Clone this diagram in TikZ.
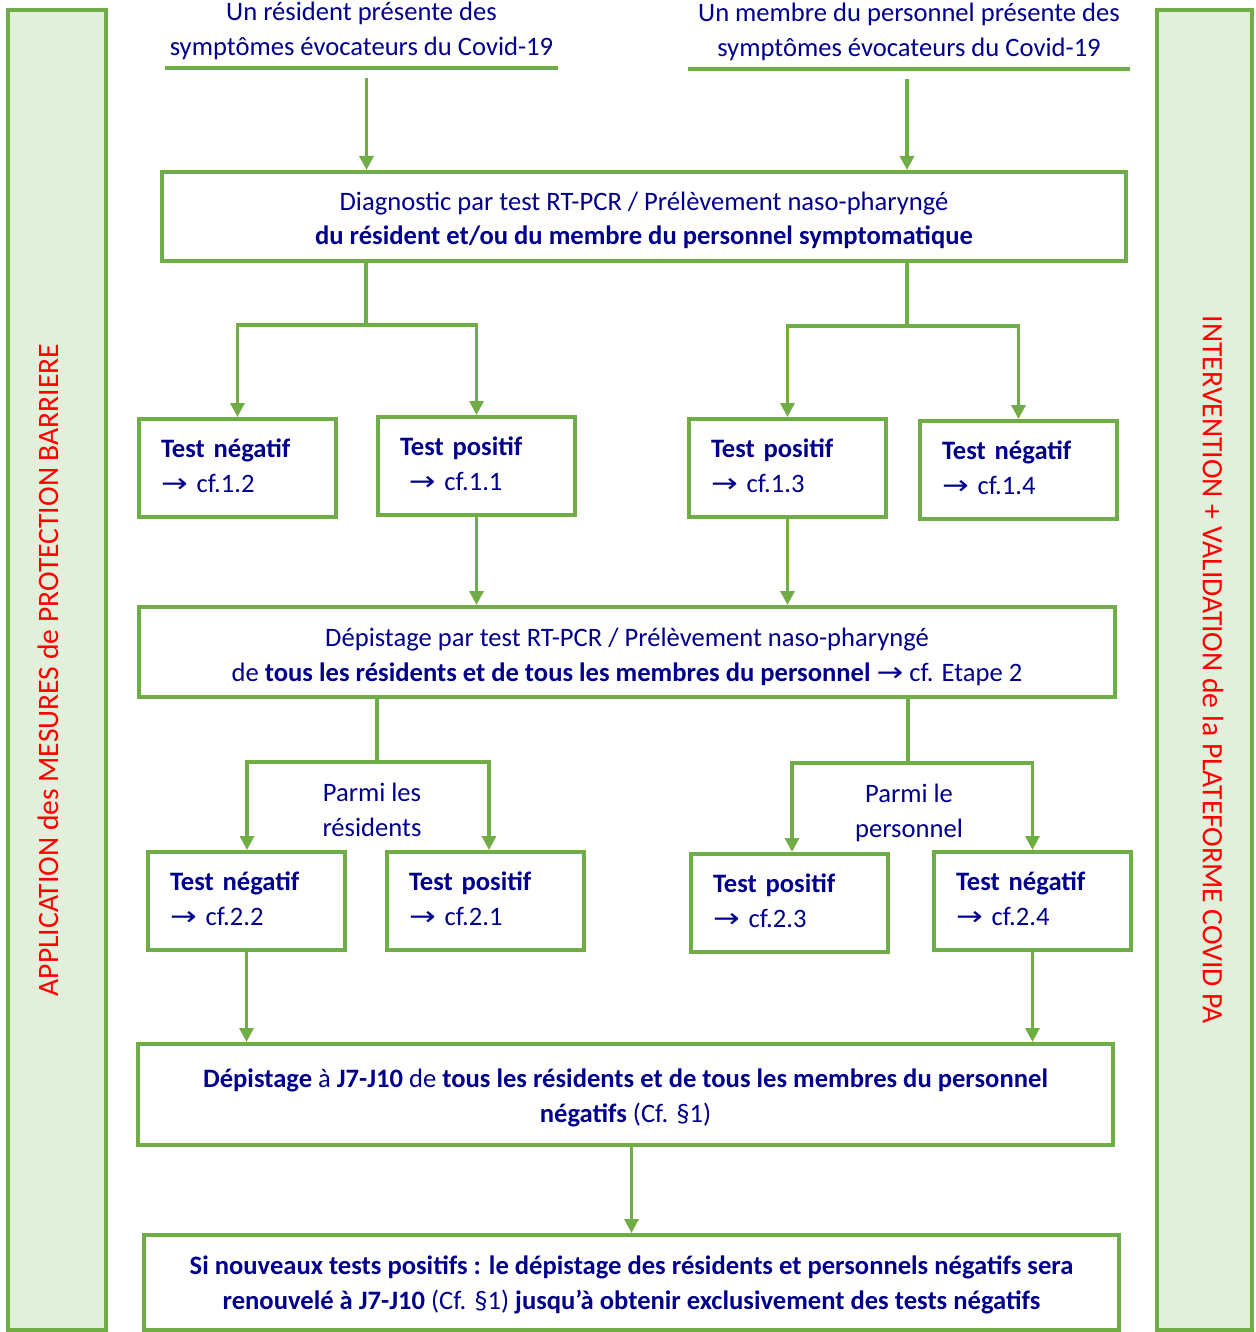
\documentclass[tikz,border=0pt]{standalone}
\usepackage{fontspec}
\usepackage{graphicx}
\setmainfont{Carlito}
\newfontfamily\arrowfont{DejaVu Sans}
\usetikzlibrary{arrows.meta}
\definecolor{grn}{RGB}{112,173,71}
\definecolor{barfill}{RGB}{226,239,218}
\definecolor{navy}{RGB}{0,0,140}
\newcommand\rarr{{\arrowfont\mdseries\scalebox{1.2}[1]{→}}}
\newcommand\fs{\fontsize{13.3}{17.5}\selectfont}
\newcommand\shc[2]{\raisebox{#1}[\height][\depth]{\begin{tabular}{@{}c@{}}#2\end{tabular}}}
\newcommand\shl[2]{\raisebox{#1}[\height][\depth]{\begin{tabular}{@{}l@{}}#2\end{tabular}}}
\tikzset{
  txt/.style={text=navy, font=\fs},
  box/.style={draw=grn, line width=2pt, inner sep=0pt, txt, align=center},
  tbox/.style={box, minimum width=98.5pt, minimum height=49pt, text width=76.5pt, align=left, inner xsep=11pt},
  bar/.style={draw=grn, fill=barfill, line width=2pt, minimum width=48pt, minimum height=660pt, inner sep=0pt},
  side/.style={text=red, font=\fontsize{14.8}{17.5}\selectfont, inner sep=0pt},
  conn/.style={draw=grn, line width=1.6pt},
  arr/.style={conn, -{Triangle[width=7pt,length=7pt]}},
  under/.style={draw=grn, line width=2pt},
}
\begin{document}
\begin{tikzpicture}[x=0.5pt,y=-0.5pt]
\useasboundingbox (0,0) rectangle (1255,1332);
% side bars
\node[bar, minimum width=49pt] (lbar) at (57,670) {};
\node[bar, minimum width=47.5pt] (rbar) at (1204.5,670) {};
\node[side, rotate=90] (ltxt) at (48,670) {APPLICATION des MESURES de PROTECTION BARRIERE};
\node[side, rotate=-90] (rtxt) at (1213,670) {INTERVENTION + VALIDATION de la PLATEFORME COVID PA};
% top texts
\node[txt, align=flush center, anchor=south, inner xsep=0pt, inner ysep=4pt, text width=196.5pt] (r1) at (361.5,68)
  {Un résident présente des\\symptômes évocateurs du Covid-19};
\draw[under] (r1.south west) -- (r1.south east);
\node[txt, align=flush center, anchor=south, inner xsep=0pt, inner ysep=4pt, text width=221pt] (r2) at (909,69)
  {Un membre du personnel présente des\\symptômes évocateurs du Covid-19};
\draw[under] (r2.south west) -- (r2.south east);
% diagnostic box
\node[box, minimum width=482pt, minimum height=44.5pt] (diag) at (644,216.5)
  {\shc{-2pt}{Diagnostic par test RT-PCR / Prélèvement naso-pharyngé\\\textbf{du résident et/ou du membre du personnel symptomatique}}};
\draw[arr] ([xshift=2.5pt,yshift=-5pt]r1.south) -- ([xshift=2.5pt]r1.south |- diag.north);
\draw[arr] ([xshift=-1pt,yshift=-5pt]r2.south) -- ([xshift=-1pt]r2.south |- diag.north);
% row 1
\node[tbox] (tn12) at (237.5,468) {\shl{0pt}{\textbf{Test négatif}\\\rarr\ cf.1.2}};
\node[tbox] (tp11) at (476.5,466) {\shl{0pt}{\textbf{Test positif}\\\ \rarr\ cf.1.1}};
\node[tbox] (tp13) at (787.5,468) {\shl{0pt}{\textbf{Test positif}\\\rarr\ cf.1.3}};
\node[tbox] (tn14) at (1018.5,470) {\shl{0pt}{\textbf{Test négatif}\\\rarr\ cf.1.4}};
\coordinate (bL1) at (366,325);
\coordinate (bR1) at (907,326);
\draw[conn] (diag.south -| bL1) -- (bL1);
\draw[arr] (bL1) -| (tn12.north);
\draw[arr] (bL1) -| (tp11.north);
\draw[conn] (diag.south -| bR1) -- (bR1);
\draw[arr] (bR1) -| (tp13.north);
\draw[arr] (bR1) -| (tn14.north);
% depistage box
\node[box, minimum width=488pt, minimum height=45pt] (dep) at (627,652)
  {\shc{-2.5pt}{Dépistage par test RT-PCR / Prélèvement naso-pharyngé\\de \textbf{tous les résidents et de tous les membres du personnel} \rarr\ cf. Etape 2}};
\draw[arr] (tp11.south) -- (tp11.south |- dep.north);
\draw[arr] (tp13.south) -- (tp13.south |- dep.north);
% row 2
\node[tbox] (tn22) at (246.5,901) {\shl{0pt}{\textbf{Test négatif}\\\rarr\ cf.2.2}};
\node[tbox] (tp21) at (485.5,901) {\shl{0pt}{\textbf{Test positif}\\\rarr\ cf.2.1}};
\node[tbox] (tp23) at (789.5,903) {\shl{0pt}{\textbf{Test positif}\\\rarr\ cf.2.3}};
\node[tbox] (tn24) at (1032.5,901) {\shl{0pt}{\textbf{Test négatif}\\\rarr\ cf.2.4}};
\coordinate (bL2) at (377,762);
\coordinate (bR2) at (908,763);
\draw[conn] (dep.south -| bL2) -- (bL2);
\draw[arr] (bL2) -| ([xshift=0.25pt]tn22.north);
\draw[arr] (bL2) -| ([xshift=1.75pt]tp21.north);
\draw[conn] (dep.south -| bR2) -- (bR2);
\draw[arr] (bR2) -| ([xshift=1.25pt]tp23.north);
\draw[arr] (bR2) -| (tn24.north);
\node[txt, align=center, inner sep=0pt] (pr) at (372,810) {Parmi les\\résidents};
\node[txt, align=center, inner sep=0pt] (pp) at (909,813) {Parmi le\\personnel};
% J7 box
\node[box, minimum width=487.5pt, minimum height=50.5pt] (j7) at (625.5,1094.5)
  {\shc{-1.5pt}{\textbf{Dépistage} à \textbf{J7-J10} de \textbf{tous les résidents et de tous les membres du personnel}\\\textbf{négatifs} (Cf. §1)}};
\draw[arr] (tn22.south) -- (tn22.south |- j7.north);
\draw[arr] (tn24.south) -- (tn24.south |- j7.north);
% final box
\node[box, minimum width=487.5pt, minimum height=47.5pt] (fin) at (631.5,1282.5)
  {\shc{-1pt}{\textbf{Si nouveaux tests positifs : le dépistage des résidents et personnels négatifs sera}\\\textbf{renouvelé à J7-J10} (Cf. §1) \textbf{jusqu’à obtenir exclusivement des tests négatifs}}};
\draw[arr] (fin.north |- j7.south) -- (fin.north);
\end{tikzpicture}
\end{document}
